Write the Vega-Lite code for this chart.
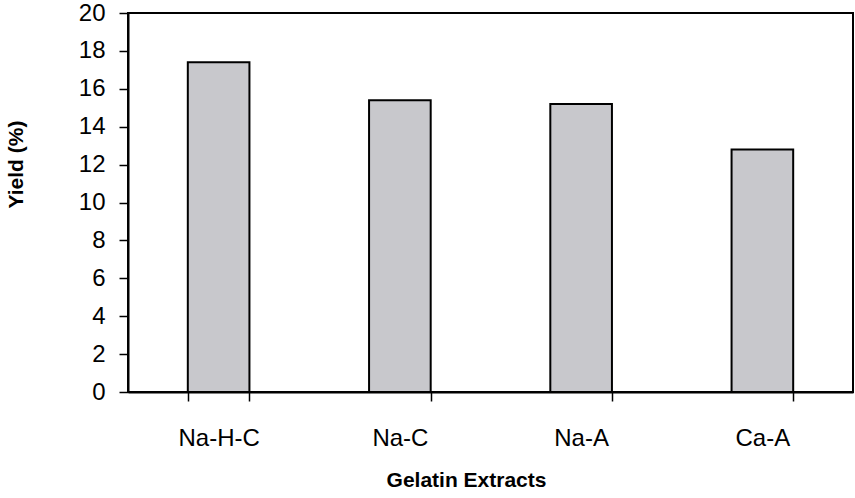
{
  "$schema": "https://vega.github.io/schema/vega-lite/v6.json",
  "autosize": "none",
  "width": 725,
  "height": 379,
  "padding": {"left": 128, "top": 13, "right": 2, "bottom": 106},
  "background": "white",
  "data": {"values": [
    {"extract": "Na-H-C", "yield": 17.4},
    {"extract": "Na-C", "yield": 15.4},
    {"extract": "Na-A", "yield": 15.2},
    {"extract": "Ca-A", "yield": 12.8}
  ]},
  "config": {
    "view": {"stroke": "black", "strokeWidth": 2},
    "axis": {"grid": false, "domainColor": "black", "domainWidth": 2, "tickColor": "black", "tickWidth": 1.5, "labelFont": "Liberation Sans", "titleFont": "Liberation Sans", "labelColor": "black", "titleColor": "black"}
  },
  "mark": {"type": "bar", "fill": "#c8c8cc", "stroke": "black", "strokeWidth": 2},
  "encoding": {
    "x": {
      "field": "extract", "type": "nominal", "sort": null,
      "scale": {"paddingInner": 0.66, "paddingOuter": 0.33},
      "axis": {"title": "Gelatin Extracts", "labelAngle": 0, "labelFontSize": 24, "tickBand": "extent", "tickSize": 9, "labelPadding": 25, "titleFontSize": 21, "titleFontWeight": "bold", "titlePadding": 19, "titleX": 338, "titleAlign": "center"}
    },
    "y": {
      "field": "yield", "type": "quantitative",
      "scale": {"domain": [0, 20]},
      "axis": {"title": "Yield (%)", "values": [0,2,4,6,8,10,12,14,16,18,20], "labelFontSize": 24, "tickSize": 9, "labelPadding": 14, "titleFontSize": 21, "titleFontWeight": "bold", "titleX": -112, "titleY": 151, "titleAngle": -90, "titleAlign": "center", "titleBaseline": "middle"}
    }
  }
}
